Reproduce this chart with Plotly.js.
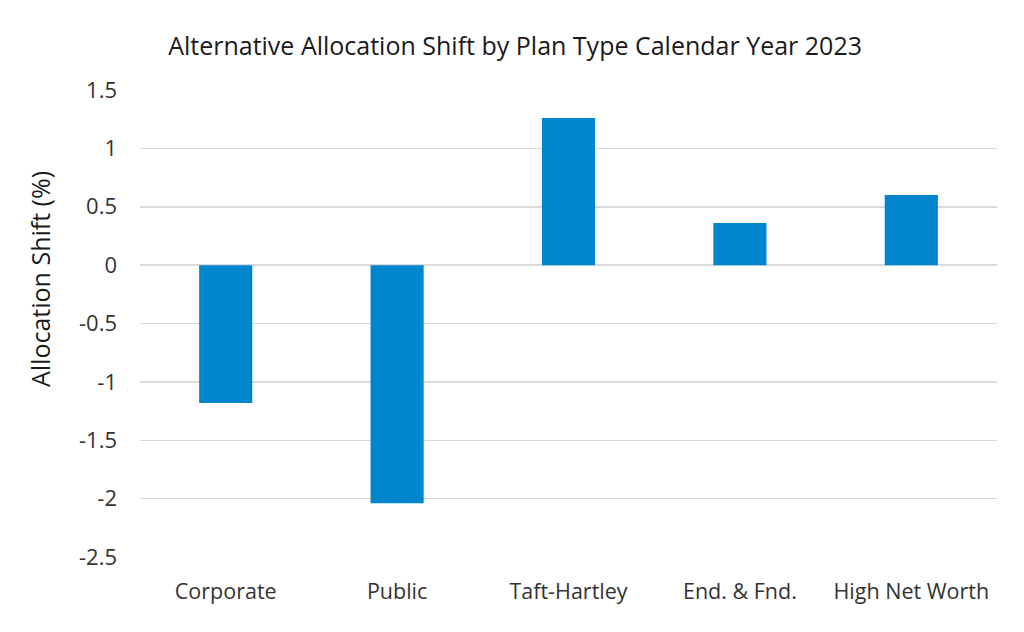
<!DOCTYPE html>
<html>
<head>
<meta charset="utf-8">
<script src="https://cdn.plot.ly/plotly-3.0.1.min.js"></script>
<style>html,body{margin:0;padding:0;background:#fff;}#chart{width:1024px;height:632px;}</style>
</head>
<body>
<div id="chart"></div>
<script>
const categories = ["Corporate", "Public", "Taft-Hartley", "End. & Fnd.", "High Net Worth"];
const allocationShift = [-1.18, -2.04, 1.26, 0.36, 0.60];
const yTickValues = [1.5, 1, 0.5, 0, -0.5, -1, -1.5, -2, -2.5];
const yTickLabels = ["1.5", "1", "0.5", "0", "-0.5", "-1", "-1.5", "-2", "-2.5"];
const yAxisTitle = "Allocation Shift (%)";

const font = "Open Sans, Liberation Sans, sans-serif";
Plotly.newPlot("chart", [{
  type: "bar",
  x: categories,
  y: allocationShift,
  width: 0.31,
  marker: {color: "#0086CC"},
  hoverinfo: "x+y"
}], {
  width: 1024, height: 632,
  margin: {l: 140, r: 27, t: 90, b: 75},
  paper_bgcolor: "#fff", plot_bgcolor: "#fff",
  title: {text: "Alternative Allocation Shift by Plan Type Calendar Year 2023", x: 0.503, xanchor: "center", y: 0.94, font: {family: font, size: 25, color: "#1a1a1a"}},
  xaxis: {tickfont: {family: font, size: 21.5, color: "#333"}, showline: false, ticks: "", showgrid: false, zeroline: false, ticklabelstandoff: 19},
  yaxis: {range: [-2.5, 1.5], tickvals: yTickValues, ticktext: yTickLabels, tickfont: {family: font, size: 22, color: "#333"},
          gridcolor: "#d9d9d9", gridwidth: 1.5, zeroline: true, zerolinecolor: "#d9d9d9", zerolinewidth: 1.5, ticks: "", ticklen: 0,
          ticklabelstandoff: 22},
  annotations: [{
    text: yAxisTitle, textangle: -90, showarrow: false,
    xref: "paper", yref: "paper", x: (40 - 140) / 857, y: (557 - 279) / 467,
    xanchor: "center", yanchor: "middle",
    font: {family: font, size: 25, color: "#1a1a1a"}
  }],
  showlegend: false
}, {displayModeBar: false, staticPlot: true});
</script>
</body>
</html>
